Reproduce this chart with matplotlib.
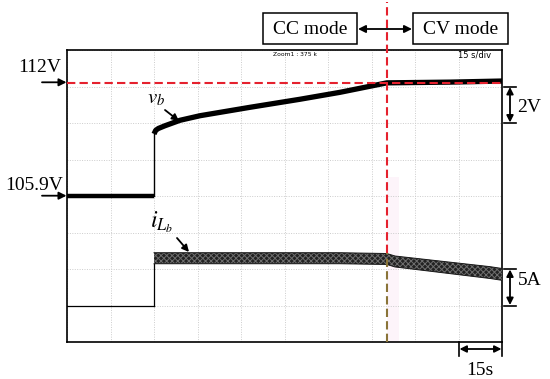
import numpy as np
import matplotlib
matplotlib.use('Agg')
import matplotlib.pyplot as plt
from matplotlib.patches import Rectangle
from matplotlib.lines import Line2D
import matplotlib.transforms as mtransforms

plt.rcParams['font.family'] = ['Liberation Serif', 'DejaVu Serif']
plt.rcParams['mathtext.fontset'] = 'stix'
plt.rcParams['hatch.linewidth'] = 0.7

# ---------------- data ----------------
time_div_s = 15          # 15 s/div
volt_div_v = 2           # 2 V/div
amp_div_a = 5            # 5 A/div
n_xdiv = 10
n_ydiv = 8

t_step = 30.0            # charging starts
t_mode_switch = 110.3    # CC -> CV

# battery voltage v_b
v_label_initial = 105.9
v_cv_level = 112.1
t_v_pre = [0.0, 30.0]
v_pre = [105.9, 105.9]
t_v_cc = [30.0, 30.6, 31.5, 33.8, 39.0, 45.9, 63.1, 80.3, 94.1, 110.3]
v_cc = [109.3, 109.5, 109.6, 109.75, 110.05, 110.3, 110.76, 111.2, 111.58, 112.1]
t_v_cv = [110.3, 132.1, 150.0]
v_cv = [112.1, 112.14, 112.2]

# inductor current i_Lb (ripple envelope)
t_i_pre = [0.0, 30.0]
i_pre = [0.0, 0.0]
t_i = [30.0, 94.1, 110.3, 113.1, 145.9, 150.0]
i_upper = [7.23, 7.23, 7.12, 6.78, 5.32, 5.07]
i_lower = [5.72, 5.72, 5.62, 5.28, 3.70, 3.45]

# screen placement of the channels (divisions from bottom)
v_ref_div = 4.0          # 105.9 V sits on 4th division
i_zero_div = 1.0         # 0 A sits on 1st division


def v2d(v):
    return v_ref_div + (np.asarray(v) - v_label_initial) / volt_div_v


def i2d(i):
    return i_zero_div + np.asarray(i) / amp_div_a


W, H = 550, 379


def ff(x, y):
    return (x / W, 1 - y / H)


RED = '#e5212e'
OLIVE = '#8a7438'

fig = plt.figure(figsize=(W / 100, H / 100), dpi=100)
ax = fig.add_axes([67 / W, 37 / H, 435 / W, 292 / H])
ax.set_xlim(0, n_xdiv * time_div_s)
ax.set_ylim(0, n_ydiv)
ax.set_xticks(np.arange(0, n_xdiv * time_div_s + 1, time_div_s))
ax.set_yticks(np.arange(0, n_ydiv + 1))
ax.tick_params(length=0, labelbottom=False, labelleft=False)
ax.grid(True, color='#cccccc', linestyle=(0, (1, 1.5)), lw=0.7)
ax.set_axisbelow(True)
for s in ax.spines.values():
    s.set_linewidth(1.2)

# faint pink strip after mode switch
ax.axvspan(t_mode_switch, t_mode_switch + 4.2, ymin=0, ymax=0.565,
           color='#fdf4fa', zorder=0.5, lw=0)

# voltage trace
ax.plot(t_v_pre, v2d(v_pre), color='k', lw=3.2, solid_capstyle='butt', zorder=3)
ax.plot([t_step, t_step], [v2d(v_pre[-1]), v2d(v_cc[0])], color='k', lw=1.0, zorder=3)
ax.plot(t_v_cc + t_v_cv[1:], v2d(v_cc + v_cv[1:]), color='k', lw=3.8,
        solid_capstyle='butt', solid_joinstyle='round', zorder=3)

# current trace
ax.plot(t_i_pre, i2d(i_pre), color='k', lw=0.9, zorder=3)
ax.plot([t_step, t_step], [i2d(i_pre[-1]), i2d(i_lower[0])], color='k', lw=0.9, zorder=3)
ax.fill_between(t_i, i2d(i_lower), i2d(i_upper), facecolor='#222222',
                edgecolor='#6e6e6e', hatch='xxxxxx', lw=0, zorder=3)
ax.plot(t_i, i2d(i_upper), color='#1a1a1a', lw=0.7, zorder=3)
ax.plot(t_i, i2d(i_lower), color='#1a1a1a', lw=0.7, zorder=3)

# red reference lines
ax.axhline(v2d(v_cv_level), color=RED, ls=(0, (4, 2)), lw=1.5, zorder=5)
trans = mtransforms.blended_transform_factory(ax.transData, ax.transAxes)
ax.plot([t_mode_switch, t_mode_switch], [0.305, 1.165], transform=trans,
        color=RED, ls=(0, (4, 2)), lw=1.5, clip_on=False, zorder=5)
ax.plot([t_mode_switch, t_mode_switch], [0.0, 0.305], transform=trans,
        color=OLIVE, ls=(0, (4, 2)), lw=1.5, clip_on=False, zorder=5)

# small scope texts
fig.text(*ff(273, 56.5), 'Zoom1 : 375 k', fontsize=4.3, family='DejaVu Sans',
         ha='left', va='baseline')
fig.text(*ff(458, 58), '15 s/div', fontsize=6, family='DejaVu Sans',
         ha='left', va='baseline')

# labels
fig.text(*ff(18, 72.5), '112V', fontsize=14, ha='left', va='baseline')
fig.text(*ff(5, 190), '105.9V', fontsize=14, ha='left', va='baseline')
fig.text(*ff(517, 111.5), '2V', fontsize=14, ha='left', va='baseline')
fig.text(*ff(518, 285), '5A', fontsize=14, ha='left', va='baseline')
fig.text(*ff(480, 375), '15s', fontsize=14, ha='center', va='baseline')
fig.text(*ff(147, 103), r'$v_b$', fontsize=15, ha='left', va='baseline')
fig.text(*ff(150, 227), r'$i_{L_b}$', fontsize=17, ha='left', va='baseline')

# mode boxes
for (x0, x1, txt) in [(263, 357, 'CC mode'), (413, 507.5, 'CV mode')]:
    fig.add_artist(Rectangle(ff(x0, 43.5), (x1 - x0) / W, 30.5 / H,
                             transform=fig.transFigure, fill=False,
                             edgecolor='k', lw=1.1))
    fig.text(*ff((x0 + x1) / 2, 29), txt, fontsize=14, ha='center', va='center')


def arrow(p0, p1, style='-|>', ms=11):
    ax.annotate('', xy=ff(*p1), xycoords='figure fraction',
                xytext=ff(*p0), textcoords='figure fraction',
                arrowprops=dict(arrowstyle=style, color='k', lw=1.3,
                                mutation_scale=ms, shrinkA=0, shrinkB=0))


def bar(p0, p1):
    fig.add_artist(Line2D([ff(*p0)[0], ff(*p1)[0]], [ff(*p0)[1], ff(*p1)[1]],
                          transform=fig.transFigure, color='k', lw=1.2))


arrow((42, 82.3), (66.5, 82.3))
arrow((42, 195.7), (66.5, 195.7))
arrow((165, 110), (179, 121), ms=10)
arrow((177, 238), (189, 252), ms=10)
arrow((358, 29), (412, 29), style='<|-|>')
arrow((510, 87), (510, 122.5), style='<|-|>', ms=10)
bar((504, 86.5), (516, 86.5))
bar((504, 123), (516, 123))
arrow((510, 269.5), (510, 305), style='<|-|>', ms=10)
bar((504, 269), (516, 269))
bar((504, 305.5), (516, 305.5))
arrow((459.5, 349), (501.5, 349), style='<|-|>', ms=10)
bar((459, 342), (459, 356))
bar((502, 342), (502, 356))

fig.savefig('out.png', dpi=100)
